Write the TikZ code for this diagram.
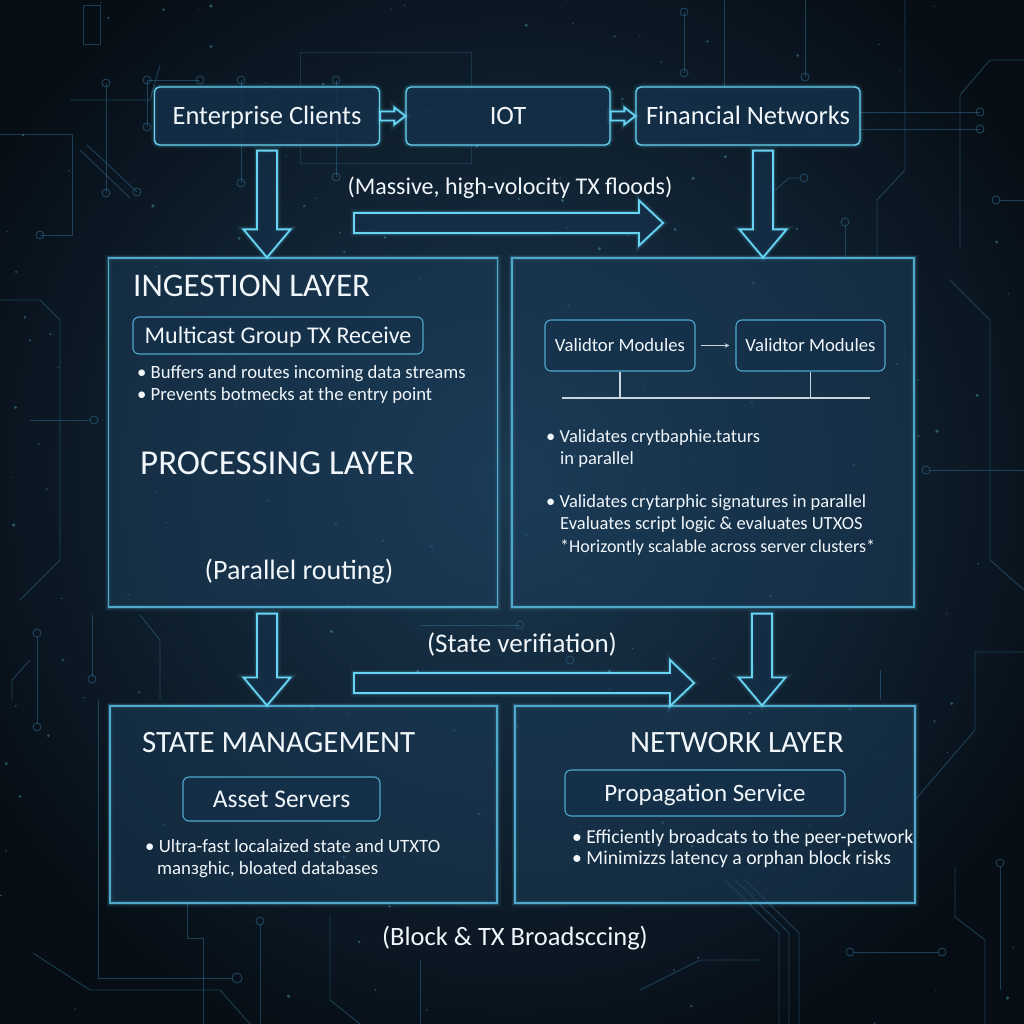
\documentclass[tikz,border=0pt]{standalone}
\usepackage{fontspec}
\setmainfont{Carlito}
\usetikzlibrary{calc}
\definecolor{bgdark}{HTML}{060D14}
\definecolor{bgmid}{HTML}{1B3952}
\definecolor{cyanln}{HTML}{66D4F2}
\definecolor{laybd}{HTML}{4FA9CC}
\definecolor{boxfill}{HTML}{1C3D5A}
\definecolor{topfill}{HTML}{14304A}
\definecolor{txt}{HTML}{F0F6FA}
\definecolor{tracec}{HTML}{2F6789}
\definecolor{treec}{HTML}{C9D6DE}
\newcommand\vdarrow[4]{% from top point #1 to tip #2, shaft half #3, head half #4
  \draw[hollow] let \p1=(#1), \p2=(#2) in
    (\x1-#3,\y1) -- (\x1+#3,\y1) -- (\x1+#3,\y2+28) -- (\x1+#4,\y2+28) -- (\x1,\y2)
    -- (\x1-#4,\y2+28) -- (\x1-#3,\y2+28) -- cycle;}
\newcommand\hrarrow[5]{% from left point #1 to tip #2, shaft half #3, head half #4, head length #5
  \draw[hollow] let \p1=(#1), \p2=(#2) in
    (\x1,\y1+#3) -- (\x2-#5,\y1+#3) -- (\x2-#5,\y1+#4) -- (\x2,\y1) -- (\x2-#5,\y1-#4)
    -- (\x2-#5,\y1-#3) -- (\x1,\y1-#3) -- cycle;}
\begin{document}
\begin{tikzpicture}[x=1pt,y=-1pt,
  glow/.style={preaction={draw=cyanln,line width=7pt,draw opacity=0.08},
               preaction={draw=cyanln,line width=3.5pt,draw opacity=0.18}},
  fs/.style={font=\fontsize{#1}{#1}\selectfont,text height={0.66*#1pt},text depth={0.02*#1pt}},
  topbox/.style={glow,draw=cyanln,line width=1.3pt,rounded corners=5pt,fill=topfill,fill opacity=0.85,text opacity=1,
                 text=txt,fs=26.5},
  layerbox/.style={glow,draw=laybd,line width=1.2pt,fill=boxfill,fill opacity=0.55},
  subbox/.style={draw=laybd,line width=1.1pt,rounded corners=6pt,fill=topfill,fill opacity=0.6,text opacity=1,text=txt},
  hollow/.style={glow,draw=cyanln,line width=1.8pt,fill=topfill,fill opacity=0.75},
  title/.style={text=txt,inner sep=0pt},
  caption/.style={text=txt,inner sep=0pt},
  bul/.style={text=txt,inner sep=0pt},
  trace/.style={draw=tracec,line width=0.9pt,opacity=0.55},
  pad/.style={draw=tracec,line width=0.9pt,opacity=0.6},
  tree/.style={draw=treec,line width=1.1pt}]
\useasboundingbox (0,0) rectangle (1024,1024);
\clip (0,0) rectangle (1024,1024);
% background
\fill[bgdark] (0,0) rectangle (1024,1024);
\shade[inner color=bgmid,outer color=bgdark] (512,480) circle (620);
% circuit traces
\draw[trace] (147,127) -- (147,80) -- (200,80);
\draw[pad] (147,80) circle (4) (200,80) circle (4) (147,127) circle (4);
\draw[trace] (106,83) -- (106,193); \draw[pad] (106,83) circle (4) (106,193) circle (4);
\draw[trace] (0,134) -- (72,134) -- (72,235) -- (40,235);\draw[pad] (40,235) circle (4);
\draw[trace] (87,145) -- (137,192); \draw[trace] (80,150) -- (130,198);\draw[pad] (137,192) circle (4);
\draw[trace] (83,5) rectangle (100,44);
\draw[trace] (70,100) -- (150,100) -- (160,65);
\draw[trace,opacity=0.35] (300,52) rectangle (471,163);
\draw[trace] (336,80) -- (336,177); \draw[pad] (336,80) circle (4) (336,177) circle (4);
\draw[trace] (241,80) -- (241,183); \draw[pad] (241,80) circle (4) (241,183) circle (4);
\draw[trace] (684,12) -- (684,73); \draw[pad] (684,12) circle (4) (684,73) circle (4);
\draw[trace] (724,0) -- (724,90);
\draw[trace] (805,0) -- (805,77); \draw[pad] (805,77) circle (4);
\draw[trace] (860,112) -- (980,112) (860,129) -- (980,129);
\draw[pad] (980,112) circle (4) (980,129) circle (4);
\draw[trace] (905,0) -- (905,170) -- (877,200) -- (877,258);
\draw[trace] (775,190) -- (789,178) -- (800,178); \draw[pad] (804,178) circle (4);
\draw[trace] (845,226) -- (845,258); \draw[pad] (845,222) circle (4);
\draw[trace] (1024,60) -- (990,60) -- (960,95) -- (960,250);
\draw[trace] (1024,200) -- (1000,200);\draw[pad] (996,200) circle (4);
\draw[trace] (0,300) -- (40,300) -- (60,320) -- (60,560) -- (20,600);
\draw[trace] (30,420) -- (90,420); \draw[pad] (94,420) circle (4);
\draw[trace] (950,280) -- (990,320) -- (990,560) -- (1024,590);
\draw[trace] (930,470) -- (1024,470); \draw[pad] (926,470) circle (4);
\draw[trace] (37,637) -- (37,723); \draw[pad] (37,633) circle (4) (37,727) circle (4);
\draw[trace] (92,615) -- (92,677); \draw[pad] (92,679) circle (4);
\draw[trace] (12,700) -- (12,680) -- (30,660);
\draw[trace] (98,700) -- (98,978) -- (232,978); \draw[pad] (237,978) circle (5);
\draw[trace] (33,953) -- (90,990) -- (220,990) -- (250,1024);
\draw[trace] (187,903) -- (187,938) -- (203,938) -- (203,1024);
\draw[trace] (140,615) -- (160,640) -- (160,700);
\draw[trace] (330,915) -- (330,1000) -- (360,1024);
\draw[trace] (420,960) -- (420,1024);
\draw[trace] (725,880) -- (779,933) -- (779,1024) (735,880) -- (789,933) -- (789,1024) (745,880) -- (799,933) -- (799,1024);
\draw[trace] (854,952) -- (938,952); \draw[pad] (850,952) circle (4) (942,952) circle (4);
\draw[trace] (915,800) -- (975,730) -- (975,652) -- (1024,652);
\draw[trace] (955,867) -- (955,917) -- (985,940) -- (985,1024);
\draw[trace] (1000,867) -- (1000,990); \draw[pad] (1000,863) circle (4);
\draw[trace] (640,990) -- (700,960) -- (760,960);
\draw[trace] (420,625) -- (520,625);
\draw[pad] (520,625) circle (4) (570,660) circle (4);
\draw[trace] (260,925) -- (260,1024); \draw[pad] (260,921) circle (4);
\draw[trace] (880,670) -- (880,700);
\pgfmathsetseed{11}
\foreach \i in {1,...,170}{
  \pgfmathsetmacro\rx{rnd*1024}\pgfmathsetmacro\ry{rnd*1024}\pgfmathsetmacro\rr{0.5+rnd*1.3}
  \fill[cyanln,opacity=0.35] (\rx,\ry) circle (\rr);}
% top row
\node[topbox,minimum width=225pt,minimum height=58pt] (ent) at (267,116) {Enterprise Clients};
\node[topbox,minimum width=204pt,minimum height=58pt] (iot) at (508,116) {IOT};
\node[topbox,minimum width=224pt,minimum height=58pt] (fin) at (748,116) {Financial Networks};
\hrarrow{ent.east}{iot.west}{4.5}{8.5}{11}
\hrarrow{iot.east}{fin.west}{4.5}{8.5}{11}
% layer boxes
\node[layerbox,minimum width=389pt,minimum height=349pt] (ing) at (303,432.5) {};
\node[layerbox,minimum width=402pt,minimum height=349pt] (val) at (713,432.5) {};
\node[layerbox,minimum width=387pt,minimum height=197pt] (st) at (303.5,804.5) {};
\node[layerbox,minimum width=400pt,minimum height=197pt] (net) at (715,804.5) {};
% big arrows top
\coordinate (ea) at ($(ent.south)+(0,5)$);
\coordinate (fa) at ($(fin.south)+(15,5)$);
\vdarrow{ea}{ea |- ing.north}{10}{23.5}
\vdarrow{fa}{fa |- val.north}{10}{23.5}
\coordinate (m1) at (354,223);
\coordinate (m2) at (663,223);
\hrarrow{m1}{m2}{10}{22.5}{24}
\node[caption,anchor=base,font=\fontsize{24}{28}\selectfont] (massive) at (510,195) {(Massive, high-volocity TX floods)};
% ingestion
\node[title,anchor=base west,font=\fontsize{33}{36}\selectfont] (ingt) at (133,296) {INGESTION LAYER};
\node[subbox,minimum width=290pt,minimum height=37pt,fs=24] (mc) at (278,335.5) {Multicast Group TX Receive};
\node[bul,anchor=base west,font=\fontsize{18.7}{22}\selectfont] (b1) at (137,378) {• Buffers and routes incoming data streams};
\node[bul,anchor=base west,font=\fontsize{18.7}{22}\selectfont] (b2) at (137,400) {• Prevents botmecks at the entry point};
\node[title,anchor=base west,font=\fontsize{35}{38}\selectfont] (proc) at (140,474) {PROCESSING LAYER};
\node[caption,anchor=base,font=\fontsize{28}{32}\selectfont] (par) at (299,579) {(Parallel routing)};
% validator
\node[subbox,minimum width=150pt,minimum height=51pt,fs=18.7] (v1) at (620,345.5) {Validtor Modules};
\node[subbox,minimum width=149pt,minimum height=51pt,fs=18.7] (v2) at (810.5,345.5) {Validtor Modules};
\draw[tree,->,>=stealth] ($(v1.east)+(5,0)$) -- ($(v2.west)+(-6,0)$);
\coordinate (busl) at (562,398);
\coordinate (busr) at (870,398);
\draw[tree] (busl) -- (busr);
\draw[tree] (v1.south) -- (v1.south |- busl);
\draw[tree] (v2.south) -- (v2.south |- busl);
\node[bul,anchor=base west,font=\fontsize{18.5}{22}\selectfont] (vb1) at (546,442) {• Validates crytbaphie.taturs};
\node[bul,anchor=base west,font=\fontsize{18.5}{22}\selectfont] (vb1b) at (560,464) {in parallel};
\node[bul,anchor=base west,font=\fontsize{18.5}{22}\selectfont] (vb2) at (546,507) {• Validates crytarphic signatures in parallel};
\node[bul,anchor=base west,font=\fontsize{18.5}{22}\selectfont] (vb2b) at (560,529) {Evaluates script logic \& evaluates UTXOS};
\node[bul,anchor=base west,font=\fontsize{18}{22}\selectfont] (vb2c) at (560,552) {*Horizontly scalable across server clusters*};
% lower arrows
\coordinate (la) at ($(ing.south)+(-36,6)$);
\coordinate (ra) at ($(val.south)+(49,6)$);
\vdarrow{la}{la |- st.north}{10}{23.5}
\vdarrow{ra}{ra |- net.north}{10}{23.5}
\coordinate (n1) at (354,683);
\coordinate (n2) at (694,683);
\hrarrow{n1}{n2}{10}{23}{24}
\node[caption,anchor=base,font=\fontsize{27}{30}\selectfont] (stv) at (522,652) {(State verifiation)};
% state management
\node[title,anchor=base west,font=\fontsize{31}{34}\selectfont] (stt) at (142,752) {STATE MANAGEMENT};
\node[subbox,minimum width=197pt,minimum height=44pt,fs=25.5] (as) at (281.5,799) {Asset Servers};
\node[bul,anchor=base west,font=\fontsize{18.8}{22}\selectfont] (sb1) at (145,852) {• Ultra-fast localaized state and UTXTO};
\node[bul,anchor=base west,font=\fontsize{18.8}{22}\selectfont] (sb2) at (157,874) {manзghic, bloated databases};
% network layer
\node[title,anchor=base,font=\fontsize{31}{34}\selectfont] (nett) at (737,752) {NETWORK LAYER};
\node[subbox,minimum width=280pt,minimum height=46pt,fs=25] (ps) at (705,793) {Propagation Service};
\node[bul,anchor=base west,font=\fontsize{19.7}{22}\selectfont] (nb1) at (572,843) {• Efficiently broadcats to the peer-petwork};
\node[bul,anchor=base west,font=\fontsize{19.7}{22}\selectfont] (nb2) at (572,864) {• Minimizzs latency a orphan block risks};
\node[caption,anchor=base,font=\fontsize{26.5}{30}\selectfont] (blk) at (515,945) {(Block \& TX Broadsccing)};
\end{tikzpicture}
\end{document}
